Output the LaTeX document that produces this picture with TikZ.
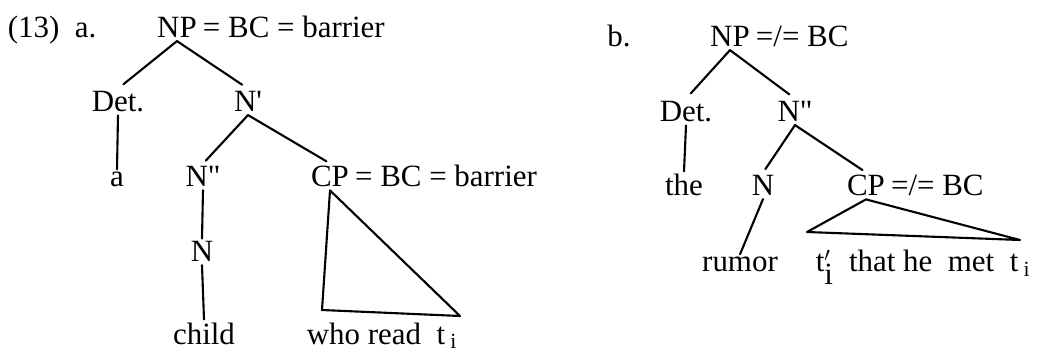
\documentclass[tikz,border=0pt]{standalone}
\usepackage{fontspec}
\setmainfont{Liberation Serif}
\usetikzlibrary{calc}

\begin{document}
\begin{tikzpicture}[x=0.025cm, y=-0.025cm, font=\fontsize{22}{26}\selectfont,
  lbl/.style={anchor=base, inner sep=2pt},
  branche/.style={line width=1.5pt, line cap=round},
  triangle/.style={line width=1.5pt, line join=round}]

\useasboundingbox (0,0) rectangle (1045,353);

% arbre a.
\node[lbl] (numA) at (52,38) {(13)\enspace a.};
\node[lbl] (npA) at (177,38) {NP};
\node[lbl, anchor=base west] (npArest) at (npA.base east) {= BC = barrier};
\node[lbl] (detA) at (118,112) {Det.};
\node[lbl] (nbarA) at (248,112) {N\textquotesingle};
\node[lbl] (aA) at (117,187) {a};
\node[lbl] (nbbarA) at (203,187) {N\textquotedbl};
\node[lbl] (cpA) at (330,187) {CP};
\node[lbl, anchor=base west] (cpArest) at (cpA.base east) {= BC = barrier};
\node[lbl] (nA) at (202,262) {N};
\node[lbl] (childA) at (204,344) {child};
\node[lbl] (whoA) at (382,344) {who read\enspace t\,\textsubscript{i}};

\coordinate (triAl) at (322,310);
\coordinate (triAr) at (460,316);

\draw[branche, shorten >=5pt] (npA.south) -- (detA.north);
\draw[branche, shorten >=5pt] (npA.south) -- (nbarA.north);
\draw[branche] (detA.south) -- (aA.north);
\draw[branche, shorten >=3pt] (nbarA.south) -- (nbbarA.north);
\draw[branche, shorten >=3pt] (nbarA.south) -- (cpA.north);
\draw[branche] (nbbarA.south) -- (nA.north);
\draw[branche] (nA.south) -- (childA.north);
\draw[triangle] (cpA.south) -- (triAl) -- (triAr) -- cycle;

% arbre b.
\node[lbl] (numB) at (619,47) {b.};
\node[lbl] (npB) at (730,47) {NP};
\node[lbl, anchor=base west] (npBrest) at (npB.base east) {=/= BC};
\node[lbl] (detB) at (686,122) {Det.};
\node[lbl] (nbbarB) at (795,122) {N\textquotedbl};
\node[lbl] (theB) at (684,196) {the};
\node[lbl] (nB) at (763,196) {N};
\node[lbl] (cpB) at (866,196) {CP};
\node[lbl, anchor=base west] (cpBrest) at (cpB.base east) {=/= BC};
\node[lbl] (rumorB) at (740,272) {rumor};
\node[lbl] (thatB) at (923,272) {t$'_{\textrm{i}}$\enspace that he\enspace met\enspace t\,\textsubscript{i}};

\coordinate (triBl) at (807,232);
\coordinate (triBr) at (1020,240);

\draw[branche, shorten >=5pt] (npB.south) -- (detB.north);
\draw[branche, shorten >=5pt] (npB.south) -- (nbbarB.north);
\draw[branche] (detB.south) -- (theB.north);
\draw[branche, shorten >=3pt] (nbbarB.south) -- (nB.north);
\draw[branche, shorten >=3pt] (nbbarB.south) -- (cpB.north);
\draw[branche] (nB.south) -- (rumorB.north);
\draw[triangle] (cpB.south) -- (triBl) -- (triBr) -- cycle;

\end{tikzpicture}
\end{document}
